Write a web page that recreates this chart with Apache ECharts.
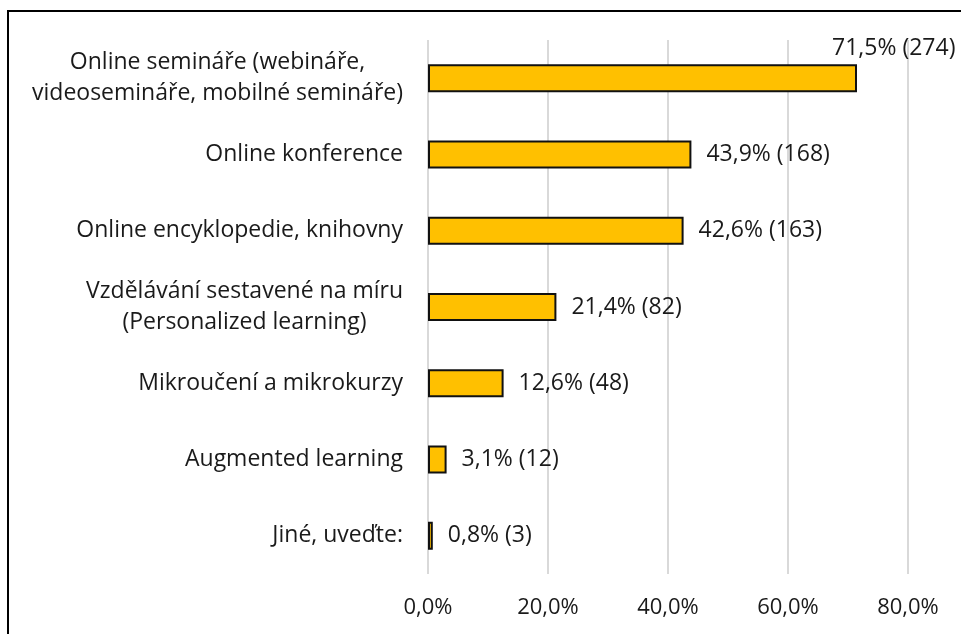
<!DOCTYPE html>
<html>
<head>
<meta charset="utf-8">
<script src="https://cdn.jsdelivr.net/npm/echarts@6/dist/echarts.min.js"></script>
<style>
  html, body { margin: 0; padding: 0; background: #fff; }
  #container { width: 961px; height: 634px; }
</style>
</head>
<body>
<div id="container"></div>
<script>
// category names, top to bottom
var categories = [
    'Online semináře (webináře,\nvideosemináře, mobilné semináře)',
    'Online konference',
    'Online encyklopedie, knihovny',
    'Vzdělávání sestavené na míru\n(Personalized learning)',
    'Mikroučení a mikrokurzy',
    'Augmented learning',
    'Jiné, uveďte:'
];
// share of respondents in %
var percents = [71.5, 43.9, 42.6, 21.4, 12.6, 3.1, 0.8];
// number of respondents
var counts = [274, 168, 163, 82, 48, 12, 3];
var xTicks = [0, 20, 40, 60, 80];

var FONT = 'Open Sans';
var FS = 23;

function fmtPct(v) {
    return v.toFixed(1).replace('.', ',') + '%';
}

var seriesData = percents.map(function (v, i) {
    var item = { value: v };
    if (i === 0) {
        // excel pushed this label above the bar end
        item.label = { offset: [-40, -30] };
    }
    return item;
});

var dom = document.getElementById('container');
var myChart = echarts.init(dom);

var option = {
    animation: false,
    backgroundColor: '#fff',
    grid: {
        left: 428,
        right: 53,
        top: 40,
        bottom: 60,
        containLabel: false
    },
    xAxis: {
        type: 'value',
        min: xTicks[0],
        max: xTicks[xTicks.length - 1],
        interval: 20,
        axisLine: { show: false },
        axisTick: { show: false },
        splitLine: { show: true, lineStyle: { color: '#d9d9d9', width: 2 } },
        axisLabel: {
            margin: 23,
            color: '#1a1a1a',
            fontFamily: FONT,
            fontSize: 22,
            formatter: function (v) { return fmtPct(v); }
        }
    },
    yAxis: {
        type: 'category',
        inverse: true,
        data: categories,
        axisLine: { show: false },
        axisTick: { show: false },
        axisLabel: {
            margin: 25,
            color: '#1a1a1a',
            fontFamily: FONT,
            fontSize: FS,
            lineHeight: 31,
            formatter: function (v) {
                return v.split('\n').map(function (s) {
                    return '{c|' + s + '}';
                }).join('\n');
            },
            rich: {
                c: {
                    align: 'center',
                    fontFamily: FONT,
                    fontSize: FS,
                    lineHeight: 31,
                    color: '#1a1a1a'
                }
            }
        }
    },
    series: [{
        type: 'bar',
        data: seriesData,
        barWidth: 28,
        itemStyle: {
            color: '#FFC000',
            borderColor: '#111',
            borderWidth: 2
        },
        label: {
            show: true,
            position: 'right',
            distance: 15,
            color: '#1a1a1a',
            fontFamily: FONT,
            fontSize: FS,
            formatter: function (p) {
                return fmtPct(p.value) + ' (' + counts[p.dataIndex] + ')';
            }
        }
    }],
    graphic: [{
        type: 'rect',
        silent: true,
        shape: { x: 8, y: 11, width: 1000, height: 700 },
        style: { fill: 'none', stroke: '#000', lineWidth: 2 },
        z: 100
    }]
};

myChart.setOption(option);
</script>
</body>
</html>
